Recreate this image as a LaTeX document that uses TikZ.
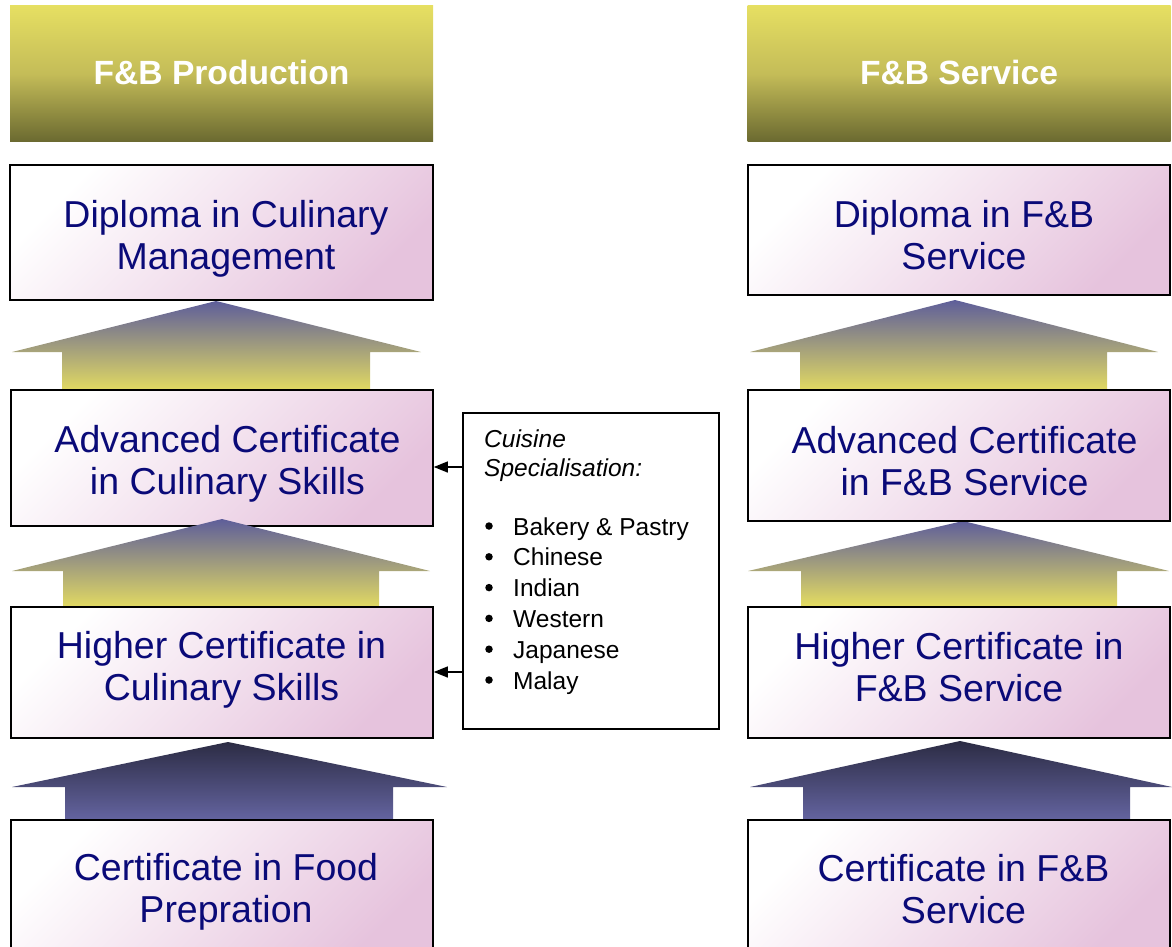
\documentclass[tikz,border=0pt]{standalone}
\usepackage{fontspec}
\setmainfont{Liberation Sans}
\usetikzlibrary{arrows.meta,calc}
\definecolor{navy}{HTML}{0A0A78}
\definecolor{boxpink}{HTML}{E6C3DD}
\definecolor{hdrtop}{HTML}{E6DF62}
\definecolor{hdrmid}{HTML}{C4BC58}
\definecolor{hdrbot}{HTML}{6A6930}
\definecolor{arrblue}{HTML}{5E5E9A}
\definecolor{arryel}{HTML}{E6DE60}
\definecolor{darktop}{HTML}{2C2C44}
\definecolor{darkbot}{HTML}{6464A0}
\begin{document}
\begin{tikzpicture}[x=1pt,y=-1pt,
  hdr/.style={minimum width=423, minimum height=136, inner sep=0, top color=hdrtop, bottom color=hdrbot, middle color=hdrmid},
  hdrtext/.style={inner sep=0, text=white, font=\fontsize{33.6}{40}\selectfont\bfseries},
  lvlbox/.style={draw=black, line width=1.6, top color=white, bottom color=boxpink, shading angle=45, minimum width=422, inner sep=0},
  lvltext/.style={inner sep=0, text=navy, align=center, font=\fontsize{37.5}{42}\selectfont},
  lightarrow/.style={top color=arrblue, bottom color=arryel},
  darkarrow/.style={top color=darktop, bottom color=darkbot},
  infobox/.style={draw=black, line width=1.3, fill=white, minimum width=256, minimum height=316, inner sep=0},
  infotext/.style={anchor=base west, inner sep=0, font=\fontsize{24.5}{30}\selectfont},
  bul/.style={circle, fill=black, inner sep=0, minimum size=7.5},
  conn/.style={line width=1.3, -{Triangle[length=14,width=11]}}
]
\useasboundingbox (0,0) rectangle (1172,947);
\clip (0,0) rectangle (1172,947);

% headers
\node[hdr] (hl) at (221.5,74) {};
\node[hdrtext] (hlt) at (221.5,72) {F\&B Production};
\node[hdr] (hr) at (959,74) {};
\node[hdrtext] (hrt) at (959,72) {F\&B Service};

% block arrows drawn beneath the boxes
\shade[lightarrow] (216,301) -- (421,352) -- (370,352) -- (370,393) -- (62,393) -- (62,352) -- (12,352) -- cycle;
\shade[darkarrow] (228,742) -- (447,787) -- (393,787) -- (393,820) -- (65,820) -- (65,787) -- (12,787) -- cycle;
\shade[lightarrow] (955,300) -- (1158,352) -- (1107,352) -- (1107,393) -- (800,393) -- (800,352) -- (750,352) -- cycle;
\shade[lightarrow] (963,521) -- (1169,571) -- (1117,571) -- (1117,607) -- (801,607) -- (801,571) -- (748,571) -- cycle;
\shade[darkarrow] (960,741) -- (1172,787) -- (1130,787) -- (1130,820) -- (803,820) -- (803,787) -- (750,787) -- cycle;

% left column
\node[lvlbox, minimum width=423, minimum height=135] (d1) at (221.5,232.5) {};
\node[lvltext] (d1t) at (226,238.5) {Diploma in Culinary\\Management};
\node[lvlbox, minimum height=136] (a1) at (222,458) {};
\node[lvltext] (a1t) at (227.5,464) {Advanced Certificate\\in Culinary Skills};
% this arrow lies over the box above it
\shade[lightarrow] (222,519) -- (430,571) -- (379,571) -- (379,610) -- (63,610) -- (63,571) -- (12,571) -- cycle;
\node[lvlbox, minimum height=131] (h1) at (222,672.5) {};
\node[lvltext] (h1t) at (221.5,669.5) {Higher Certificate in\\Culinary Skills};
\node[lvlbox, minimum height=138] (c1) at (222,889) {};
\node[lvltext] (c1t) at (226,891.5) {Certificate in Food\\Prepration};

% right column
\node[lvlbox, minimum height=130] (d2) at (959,230) {};
\node[lvltext] (d2t) at (964,235.5) {Diploma in F\&B\\Service};
\node[lvlbox, minimum height=131] (a2) at (959,455.5) {};
\node[lvltext] (a2t) at (964.5,461.5) {Advanced Certificate\\in F\&B Service};
\node[lvlbox, minimum height=131] (h2) at (959,672.5) {};
\node[lvltext] (h2t) at (959,667.5) {Higher Certificate in\\F\&B Service};
\node[lvlbox, minimum height=138] (c2) at (959,889) {};
\node[lvltext] (c2t) at (963.5,889.5) {Certificate in F\&B\\Service};

% cuisine box
\node[infobox] (cs) at (591,571) {};
\node[infotext] (t1) at (484,447) {\itshape Cuisine};
\node[infotext] (t2) at (484,476) {\itshape Specialisation:};
\foreach \name/\txt [count=\i from 0] in {b1/Bakery \& Pastry, b2/Chinese, b3/Indian, b4/Western, b5/Japanese, b6/Malay}{
  \node[infotext] (\name) at (513,{535+30.8*\i}) {\txt};
  \node[bul] (\name d) at (489,{526+30.8*\i}) {};
}

% connectors
\coordinate (p1) at (cs.west |- 0,467);
\coordinate (p2) at (cs.west |- 0,672);
\draw[conn] (p1) -- (p1 -| a1.east);
\draw[conn] (p2) -- (p2 -| h1.east);
\end{tikzpicture}
\end{document}
